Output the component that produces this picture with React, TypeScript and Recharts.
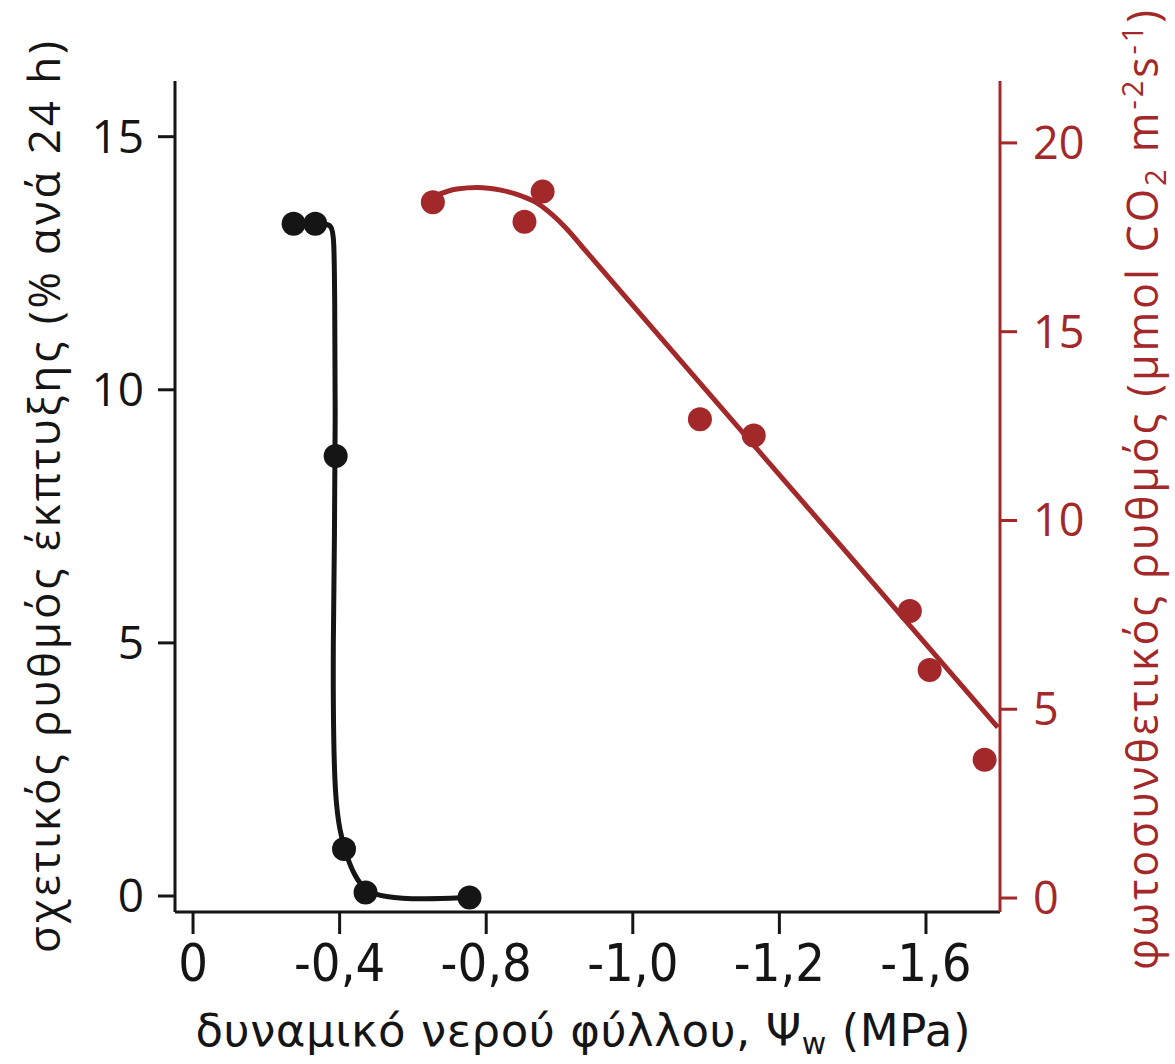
import React from 'react';
import { ComposedChart, Line, XAxis, YAxis } from 'recharts';

// x positions are expressed in axis-tick units (tick i sits at position i)
const xTickPositions = [0, 1, 2, 3, 4, 5];
const xTickLabels = ['0', '-0,4', '-0,8', '-1,0', '-1,2', '-1,6'];
const leftTicks = [0, 5, 10, 15];
const rightTicks = [0, 5, 10, 15, 20];

// relative leaf growth rate (% per 24 h) – measured points
const growthX = [0.686, 0.834, 0.973, 1.03, 1.177, 1.886];
const growthY = [13.28, 13.28, 8.69, 0.93, 0.07, -0.03];

// fitted growth curve
const growthCurveX = [0.834, 0.9, 0.945, 0.962, 0.966, 0.972, 0.965, 0.955, 0.958, 0.972, 1.0, 1.04, 1.1, 1.177, 1.3, 1.55, 1.886];
const growthCurveY = [13.28, 13.28, 13.25, 13.0, 12.0, 9.5, 7.0, 5.0, 3.0, 1.9, 1.3, 0.85, 0.4, 0.1, -0.02, -0.07, -0.03];

// photosynthetic rate (µmol CO2 m-2 s-1) – measured points
const photoX = [1.636, 2.261, 2.385, 3.458, 3.825, 4.89, 5.025, 5.40];
const photoY = [18.43, 17.91, 18.71, 12.68, 12.25, 7.60, 6.04, 3.66];

// fitted photosynthesis curve
const photoCurveX = [1.65, 1.8, 1.94, 2.1, 2.25, 2.35, 2.45, 2.55, 2.65, 3.5, 4.5, 5.49];
const photoCurveY = [18.6, 18.78, 18.82, 18.75, 18.58, 18.4, 18.1, 17.72, 17.27, 13.45, 8.97, 4.52];

const growthPoints = growthX.map((x, i) => ({ x, y: growthY[i] }));
const growthCurve = growthCurveX.map((x, i) => ({ x, y: growthCurveY[i] }));
const photoPoints = photoX.map((x, i) => ({ x, y: photoY[i] }));
const photoCurve = photoCurveX.map((x, i) => ({ x, y: photoCurveY[i] }));

const BLACK = '#151515';
const RED = '#a3282a';

const LeftTitle = () => (
  <text
    transform="translate(60,497) rotate(-90)"
    textAnchor="middle"
    fontFamily="'Open Sans', sans-serif"
    fontSize={44}
    textLength={912}
    lengthAdjust="spacing"
    fill={BLACK}
  >
    σχετικός ρυθμός έκπτυξης (% ανά 24 h)
  </text>
);

const RightTitle = () => (
  <text
    transform="translate(1158,490) rotate(-90)"
    textAnchor="middle"
    fontFamily="'Open Sans', sans-serif"
    fontSize={43}
    textLength={960}
    lengthAdjust="spacing"
    fill={RED}
  >
    φωτοσυνθετικός ρυθμός (μmol CO
    <tspan dy={8} fontSize={29}>2</tspan>
    <tspan dy={-8}> m</tspan>
    <tspan dy={-15} fontSize={29}>-2</tspan>
    <tspan dy={15}>s</tspan>
    <tspan dy={-15} fontSize={29}>-1</tspan>
    <tspan dy={15}>)</tspan>
  </text>
);

const BottomTitle = () => (
  <text
    x={583}
    y={1046}
    textAnchor="middle"
    fontFamily="'DejaVu Sans', sans-serif"
    fontSize={45}
    textLength={775}
    lengthAdjust="spacing"
    fill={BLACK}
  >
    δυναμικό νερού φύλλου, Ψ
    <tspan dy={8} fontSize={30}>w</tspan>
    <tspan dy={-8}> (MPa)</tspan>
  </text>
);

export default function App() {
  return (
    <div style={{ position: 'absolute', left: 0, top: 0, width: 1175, height: 1064, background: '#fff' }}>
      <ComposedChart width={1175} height={1064} margin={{ top: 81, right: 0, bottom: 0, left: 0 }}>
        <XAxis
          type="number"
          dataKey="x"
          domain={[-0.123, 5.505]}
          ticks={xTickPositions}
          interval={0}
          allowDataOverflow
          tickFormatter={(v: number) => xTickLabels[v]}
          height={152}
          tickSize={22}
          tickMargin={10}
          axisLine={{ stroke: BLACK, strokeWidth: 3 }}
          tickLine={{ stroke: BLACK, strokeWidth: 3 }}
          tick={{ fill: BLACK, fontSize: 52, fontFamily: "'DejaVu Sans Condensed', 'DejaVu Sans', sans-serif", fontStretch: 'condensed' } as any}
          label={() => <BottomTitle />}
        />
        <YAxis
          yAxisId="left"
          type="number"
          domain={[-0.316, 16.1]}
          ticks={leftTicks}
          interval={0}
          allowDataOverflow
          width={175}
          tickSize={17}
          tickMargin={14}
          axisLine={{ stroke: BLACK, strokeWidth: 3 }}
          tickLine={{ stroke: BLACK, strokeWidth: 3 }}
          tick={{ fill: BLACK, fontSize: 46, fontFamily: "'Open Sans', sans-serif" }}
          label={() => <LeftTitle />}
        />
        <YAxis
          yAxisId="right"
          orientation="right"
          type="number"
          domain={[-0.37, 21.64]}
          ticks={rightTicks}
          interval={0}
          allowDataOverflow
          width={175}
          tickSize={17}
          tickMargin={16}
          axisLine={{ stroke: RED, strokeWidth: 3 }}
          tickLine={{ stroke: RED, strokeWidth: 3 }}
          tick={{ fill: RED, fontSize: 45, fontFamily: "'Open Sans', sans-serif" }}
          label={() => <RightTitle />}
        />
        <Line
          yAxisId="left"
          data={growthCurve}
          dataKey="y"
          type="basis"
          stroke={BLACK}
          strokeWidth={5}
          dot={false}
          activeDot={false}
          isAnimationActive={false}
        />
        <Line
          yAxisId="left"
          data={growthPoints}
          dataKey="y"
          stroke="none"
          strokeWidth={0}
          dot={{ r: 12, fill: BLACK, stroke: 'none' }}
          activeDot={false}
          isAnimationActive={false}
        />
        <Line
          yAxisId="right"
          data={photoCurve}
          dataKey="y"
          type="monotone"
          stroke={RED}
          strokeWidth={5}
          dot={false}
          activeDot={false}
          isAnimationActive={false}
        />
        <Line
          yAxisId="right"
          data={photoPoints}
          dataKey="y"
          stroke="none"
          strokeWidth={0}
          dot={{ r: 12, fill: RED, stroke: 'none' }}
          activeDot={false}
          isAnimationActive={false}
        />
      </ComposedChart>
    </div>
  );
}
